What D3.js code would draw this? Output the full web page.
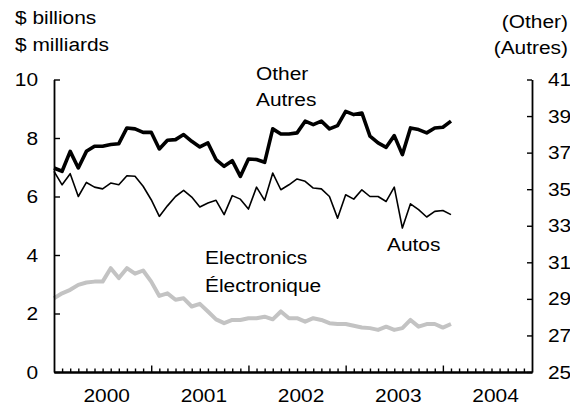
<!DOCTYPE html>
<html>
<head>
<meta charset="utf-8">
<script src="https://cdn.jsdelivr.net/npm/d3@7"></script>
<style>
  html, body { margin: 0; padding: 0; background: #fff; }
  svg { display: block; }
  text { font-family: "Liberation Sans", Arial, Helvetica, sans-serif; font-size: 19px; fill: #000; }
</style>
</head>
<body>
<svg id="chart" width="570" height="404"></svg>
<script>
// ---- data (monthly, starting January 2000) ----
const other = [36.16, 35.98, 37.07, 36.16, 37.07, 37.35, 37.35, 37.44, 37.49, 38.35,
               38.30, 38.11, 38.11, 37.20, 37.68, 37.71, 37.99, 37.62, 37.31, 37.53,
               36.62, 36.25, 36.56, 35.70, 36.65, 36.62, 36.47, 38.30, 38.02, 38.02,
               38.08, 38.72, 38.53, 38.72, 38.30, 38.48, 39.26, 39.08, 39.17, 37.90,
               37.53, 37.29, 37.93, 36.89, 38.35, 38.26, 38.08, 38.35, 38.39, 38.72];
const autos = [6.86, 6.40, 6.78, 6.00, 6.48, 6.32, 6.26, 6.46, 6.40, 6.71,
               6.69, 6.35, 5.89, 5.32, 5.68, 6.00, 6.21, 5.98, 5.64, 5.78,
               5.87, 5.38, 6.03, 5.91, 5.57, 6.32, 5.87, 6.80, 6.23, 6.40,
               6.60, 6.52, 6.29, 6.26, 6.00, 5.26, 6.06, 5.91, 6.23, 6.00,
               6.00, 5.83, 6.32, 4.92, 5.75, 5.55, 5.30, 5.49, 5.52, 5.38];
const electronics = [2.52, 2.69, 2.81, 2.98, 3.06, 3.09, 3.09, 3.55, 3.21, 3.55,
                     3.36, 3.47, 3.09, 2.60, 2.69, 2.47, 2.52, 2.24, 2.33, 2.07,
                     1.80, 1.67, 1.78, 1.78, 1.84, 1.84, 1.89, 1.80, 2.07, 1.84,
                     1.84, 1.72, 1.84, 1.78, 1.67, 1.64, 1.64, 1.58, 1.52, 1.50,
                     1.44, 1.55, 1.44, 1.50, 1.78, 1.55, 1.64, 1.64, 1.52, 1.64];
const yearLabels = ["2000", "2001", "2002", "2003", "2004"];
const leftTicks = [0, 2, 4, 6, 8, 10];
const rightTicks = [25, 27, 29, 31, 33, 35, 37, 39, 41];
const monthCount = 60;

(function () {
// ---- layout ----
const svg = d3.select("#chart");
const mLeft = 54, mRight = 532, mTop = 79.5, mBottom = 372;
const SX = 1.1; // horizontal stretch of type in the reference

const x = d3.scaleLinear().domain([0, monthCount - 1]).range([mLeft, mRight]);
const yL = d3.scaleLinear().domain([0, 10]).range([mBottom, mTop]);
const yR = d3.scaleLinear().domain([25, 41]).range([mBottom, mTop]);

function stretch(sel) {
  sel.each(function () {
    const t = d3.select(this);
    const tx = +t.attr("x") || 0;
    t.attr("x", tx / SX).attr("transform", `scale(${SX},1)`);
  });
}
function label(txt, px, py, anchor) {
  svg.append("text")
    .attr("transform", `translate(${px},${py}) scale(${SX},1)`)
    .attr("text-anchor", anchor || "start")
    .text(txt);
}

// ---- lines ----
const idx = d3.range(other.length);
const lineL = vals => d3.line().x(i => x(i)).y(i => yL(vals[i]))(idx);
const lineR = vals => d3.line().x(i => x(i)).y(i => yR(vals[i]))(idx);

svg.append("path").attr("d", lineL(electronics))
  .attr("fill", "none").attr("stroke", "#c3c3c3").attr("stroke-width", 4)
  .attr("stroke-linejoin", "round");
svg.append("path").attr("d", lineL(autos))
  .attr("fill", "none").attr("stroke", "#000").attr("stroke-width", 1.6)
  .attr("stroke-linejoin", "round");
svg.append("path").attr("d", lineR(other))
  .attr("fill", "none").attr("stroke", "#000").attr("stroke-width", 3.6)
  .attr("stroke-linejoin", "round");

// ---- axes ----
const gL = svg.append("g").attr("transform", `translate(${mLeft},0)`)
  .call(d3.axisLeft(yL).tickValues(leftTicks).tickSize(-6).tickPadding(16).tickSizeOuter(0));
const gR = svg.append("g").attr("transform", `translate(${mRight},0)`)
  .call(d3.axisRight(yR).tickValues(rightTicks).tickSize(-5).tickPadding(16).tickSizeOuter(0));

const minor = d3.range(1, monthCount - 1).filter(m => m % 12 !== 0);
const major = d3.range(12, monthCount - 1, 12);
const gXm = svg.append("g").attr("transform", `translate(0,${mBottom})`)
  .call(d3.axisBottom(x).tickValues(minor).tickSize(-3.5).tickFormat("").tickSizeOuter(0));
const gXM = svg.append("g").attr("transform", `translate(0,${mBottom})`)
  .call(d3.axisBottom(x).tickValues(major).tickSize(-6.5).tickFormat("").tickSizeOuter(0));

[gL, gR, gXm, gXM].forEach(g => {
  g.attr("font-family", null).attr("font-size", null);
  g.selectAll("text").attr("fill", "#000");
  g.selectAll("line").attr("stroke", "#000").attr("stroke-width", 1.4);
  g.select(".domain").attr("stroke", "#000").attr("stroke-width", 1.8);
});
gL.selectAll("text").call(stretch);
gR.selectAll("text").call(stretch);

// year labels centred on each year's span
svg.append("g").selectAll("text").data(yearLabels).join("text")
  .attr("transform", (d, k) => `translate(${x(6.5 + 12 * k)},401.5) scale(${SX},1)`)
  .attr("text-anchor", "middle")
  .text(d => d);

// ---- titles / series labels ----
label("$ billions", 15, 23.5);
label("$ milliards", 15, 50.5);
label("(Other)", 568, 27.5, "end");
label("(Autres)", 568, 54, "end");
label("Other", 256, 80);
label("Autres", 256, 106);
label("Electronics", 205, 264);
label("Électronique", 205, 291.5);
label("Autos", 387, 251);
})();
</script>
</body>
</html>
